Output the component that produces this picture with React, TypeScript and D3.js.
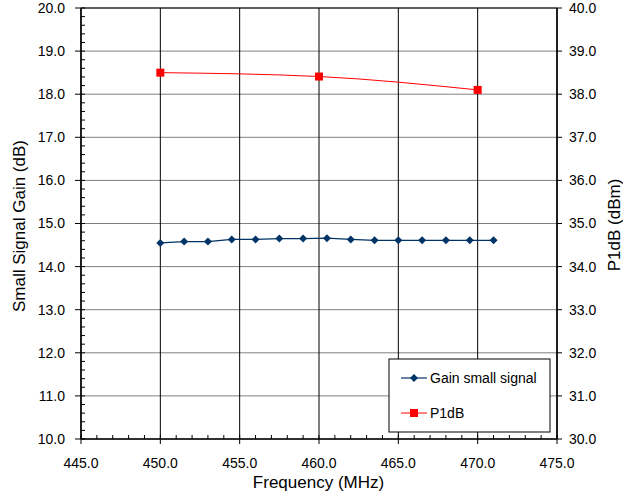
import React from "react";
import * as d3 from "d3";

const gainFreq = [450, 451.5, 453, 454.5, 456, 457.5, 459, 460.5, 462, 463.5, 465, 466.5, 468, 469.5, 471];
const gainValues = [14.55, 14.58, 14.58, 14.63, 14.63, 14.65, 14.65, 14.66, 14.63, 14.61, 14.61, 14.61, 14.61, 14.61, 14.61];
const p1dbFreq = [450, 460, 470];
const p1dbValues = [38.5, 38.41, 38.1];
const xTicks = [445, 450, 455, 460, 465, 470, 475];
const yLeftTicks = [10, 11, 12, 13, 14, 15, 16, 17, 18, 19, 20];
const yRightTicks = [30, 31, 32, 33, 34, 35, 36, 37, 38, 39, 40];

export default function App() {
  const W = 623, H = 499;
  const left = 81, right = 557, top = 8, bottom = 439;
  const x = d3.scaleLinear().domain([445, 475]).range([left, right]);
  const yL = d3.scaleLinear().domain([10, 20]).range([bottom, top]);
  const yR = d3.scaleLinear().domain([30, 40]).range([bottom, top]);
  const font = "'Liberation Sans', Arial, sans-serif";

  const gainLine = d3.line<number>().x((_, i) => x(gainFreq[i])).y((d) => yL(d))(gainValues) || "";
  const p1Line = d3.line<number>().x((_, i) => x(p1dbFreq[i])).y((d) => yR(d)).curve(d3.curveMonotoneX)(p1dbValues) || "";

  const minorY = d3.range(10, 20.0001, 0.2);
  const minorX = d3.range(445, 475.0001, 1);
  const diamond = (cx: number, cy: number, r: number) => `M${cx},${cy - r}L${cx + r},${cy}L${cx},${cy + r}L${cx - r},${cy}Z`;

  return (
    <svg width={W} height={H} style={{ position: "absolute", left: 0, top: 0, background: "#fff" }} fontFamily={font}>
      <rect x={0} y={0} width={W} height={H} fill="#fff" />
      {yLeftTicks.map((t) => (
        <line key={"h" + t} x1={left} x2={right} y1={yL(t)} y2={yL(t)} stroke="#808080" strokeWidth={1} />
      ))}
      {xTicks.map((t) => (
        <line key={"v" + t} x1={x(t)} x2={x(t)} y1={top} y2={bottom} stroke="#000" strokeWidth={1} />
      ))}
      <line x1={left} x2={left} y1={top} y2={bottom} stroke="#000" strokeWidth={1.5} />
      <line x1={right} x2={right} y1={top} y2={bottom} stroke="#000" strokeWidth={1.5} />
      <line x1={left} x2={right} y1={bottom} y2={bottom} stroke="#000" strokeWidth={1.5} />
      <line x1={left} x2={right} y1={top} y2={top} stroke="#000" strokeWidth={1} />
      {minorY.map((t, i) => (
        <line key={"ml" + i} x1={left} x2={left + 4} y1={yL(t)} y2={yL(t)} stroke="#000" />
      ))}
      {yLeftTicks.map((t) => (
        <line key={"tl" + t} x1={left - 6} x2={left} y1={yL(t)} y2={yL(t)} stroke="#000" />
      ))}
      {yRightTicks.map((t) => (
        <line key={"tr" + t} x1={right} x2={right + 5} y1={yR(t)} y2={yR(t)} stroke="#000" />
      ))}
      {minorX.map((t, i) => (
        <line key={"mb" + i} x1={x(t)} x2={x(t)} y1={bottom - 4} y2={bottom} stroke="#000" />
      ))}
      {xTicks.map((t) => (
        <line key={"tb" + t} x1={x(t)} x2={x(t)} y1={bottom} y2={bottom + 5} stroke="#000" />
      ))}
      {yLeftTicks.map((t) => (
        <text key={"ll" + t} x={left - 16} y={yL(t)} dy="0.35em" textAnchor="end" fontSize={14}>{t.toFixed(1)}</text>
      ))}
      {yRightTicks.map((t) => (
        <text key={"rl" + t} x={right + 12} y={yR(t)} dy="0.35em" textAnchor="start" fontSize={14}>{t.toFixed(1)}</text>
      ))}
      {xTicks.map((t) => (
        <text key={"bl" + t} x={x(t)} y={bottom + 29} textAnchor="middle" fontSize={14}>{t.toFixed(1)}</text>
      ))}
      <text x={318.5} y={488} textAnchor="middle" fontSize={17}>Frequency (MHz)</text>
      <text transform={`translate(25,226) rotate(-90)`} textAnchor="middle" fontSize={17}>Small Signal Gain (dB)</text>
      <text transform={`translate(620,225) rotate(-90)`} textAnchor="middle" fontSize={17}>P1dB (dBm)</text>
      <path d={gainLine} fill="none" stroke="#003366" strokeWidth={1.2} />
      {gainValues.map((v, i) => (
        <path key={"gd" + i} d={diamond(x(gainFreq[i]), yL(v), 4)} fill="#003366" />
      ))}
      <path d={p1Line} fill="none" stroke="#ff0000" strokeWidth={1} />
      {p1dbValues.map((v, i) => (
        <rect key={"pr" + i} x={x(p1dbFreq[i]) - 4} y={yR(v) - 4} width={8} height={8} fill="#ff0000" />
      ))}
      <rect x={389} y={359} width={161} height={73} fill="#fff" stroke="#000" strokeWidth={1} />
      <line x1={401} x2={427} y1={378} y2={378} stroke="#003366" strokeWidth={1.2} />
      <path d={diamond(414, 378, 4)} fill="#003366" />
      <text x={430} y={378} dy="0.35em" fontSize={14}>Gain small signal</text>
      <line x1={401} x2={427} y1={413} y2={413} stroke="#ff0000" strokeWidth={1} />
      <rect x={410} y={409} width={8} height={8} fill="#ff0000" />
      <text x={430} y={413} dy="0.35em" fontSize={14}>P1dB</text>
    </svg>
  );
}
